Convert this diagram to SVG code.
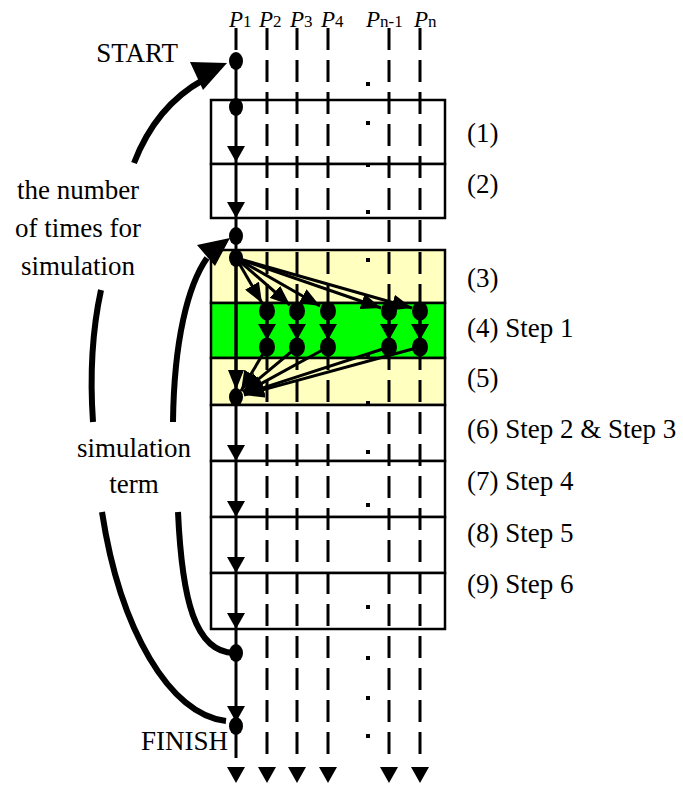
<svg xmlns="http://www.w3.org/2000/svg" xmlns:xlink="http://www.w3.org/1999/xlink" width="683" height="785" viewBox="0 0 683 785">
<style>
.lbl{font-size:27px}
.pl{font-size:23px;font-style:italic}
.ps{font-size:17px;font-style:normal}
.dash{stroke:#000;stroke-width:3;stroke-dasharray:22 10;fill:none}
.box{stroke:#000;stroke-width:2.5}
.ln{stroke:#000;stroke-width:3;fill:none}
.fan{stroke:#000;stroke-width:3;fill:none;marker-end:url(#ah)}
.crv{stroke:#000;stroke-width:6;fill:none}
.dot{fill:#000}
</style>
<defs>
<marker id="ah" viewBox="0 0 20 16" refX="20" refY="8" markerWidth="20" markerHeight="16" markerUnits="userSpaceOnUse" orient="auto"><path d="M0,0 L20,8 L0,16 z"/></marker>
<path id="dn" d="M-9,-16 L9,-16 L0,0 z"/>
<path id="dnb" d="M-9,0 L9,0 L0,16 z"/>
<ellipse id="d" cx="0" cy="0" rx="7" ry="9"/>
<ellipse id="d2" cx="0" cy="0" rx="8" ry="9.5"/>
<rect id="sq" x="-2" y="-2" width="4" height="4"/>
</defs>

<g id="boxes">
<g id="box1"><rect class="box" x="211" y="100" width="234" height="64" fill="#fff"/></g>
<g id="box2"><rect class="box" x="211" y="164" width="234" height="54" fill="#fff"/></g>
<g id="box3"><rect class="box" x="211" y="250" width="234" height="53" fill="#FFFFC0"/></g>
<g id="box4"><rect class="box" x="211" y="303" width="234" height="55" fill="#00FF00"/></g>
<g id="box5"><rect class="box" x="211" y="358" width="234" height="47" fill="#FFFFC0"/></g>
<g id="box6"><rect class="box" x="211" y="405" width="234" height="56" fill="#fff"/></g>
<g id="box7"><rect class="box" x="211" y="461" width="234" height="56" fill="#fff"/></g>
<g id="box8"><rect class="box" x="211" y="517" width="234" height="56" fill="#fff"/></g>
<g id="box9"><rect class="box" x="211" y="573" width="234" height="56" fill="#fff"/></g>
</g>

<g id="columns">
<line class="dash" x1="236" y1="28" x2="236" y2="58"/>
<line class="dash" x1="267" y1="28" x2="267" y2="757"/>
<line class="dash" x1="297" y1="28" x2="297" y2="757"/>
<line class="dash" x1="328" y1="28" x2="328" y2="757"/>
<line class="dash" x1="389" y1="28" x2="389" y2="757"/>
<line class="dash" x1="420" y1="28" x2="420" y2="757"/>
<g class="dot">
<use xlink:href="#dnb" x="236" y="767"/>
<use xlink:href="#dnb" x="267" y="767"/>
<use xlink:href="#dnb" x="297" y="767"/>
<use xlink:href="#dnb" x="328" y="767"/>
<use xlink:href="#dnb" x="389" y="767"/>
<use xlink:href="#dnb" x="420" y="767"/>
</g>
</g>

<g id="ellipsis" class="dot">
<use xlink:href="#sq" x="368" y="84"/>
<use xlink:href="#sq" x="368" y="123"/>
<use xlink:href="#sq" x="368" y="165"/>
<use xlink:href="#sq" x="368" y="212"/>
<use xlink:href="#sq" x="368" y="260"/>
<use xlink:href="#sq" x="368" y="355"/>
<use xlink:href="#sq" x="368" y="403"/>
<use xlink:href="#sq" x="368" y="452"/>
<use xlink:href="#sq" x="368" y="505"/>
<use xlink:href="#sq" x="368" y="607"/>
<use xlink:href="#sq" x="368" y="658"/>
<use xlink:href="#sq" x="368" y="698"/>
<use xlink:href="#sq" x="368" y="736"/>
</g>

<g id="connectors">
<line class="ln" x1="236" y1="61" x2="236" y2="758"/>
<g class="dot">
<use xlink:href="#dn" x="236" y="162"/>
<use xlink:href="#dn" x="236" y="218"/>
<use xlink:href="#dn" x="236" y="461"/>
<use xlink:href="#dn" x="236" y="517"/>
<use xlink:href="#dn" x="236" y="573"/>
<use xlink:href="#dn" x="236" y="629"/>
<use xlink:href="#dn" x="236" y="722"/>
</g>
<line class="fan" x1="236" y1="258" x2="262" y2="303"/>
<line class="fan" x1="236" y1="258" x2="290" y2="305"/>
<line class="fan" x1="236" y1="258" x2="320" y2="306"/>
<line class="fan" x1="236" y1="258" x2="381" y2="308"/>
<line class="fan" x1="236" y1="258" x2="412" y2="308"/>
<g class="dot">
<use xlink:href="#dn" x="267" y="340"/>
<use xlink:href="#dn" x="297" y="340"/>
<use xlink:href="#dn" x="328" y="340"/>
<use xlink:href="#dn" x="389" y="340"/>
<use xlink:href="#dn" x="420" y="340"/>
</g>
<line class="ln" x1="267" y1="311" x2="267" y2="347"/>
<line class="ln" x1="297" y1="311" x2="297" y2="347"/>
<line class="ln" x1="328" y1="311" x2="328" y2="347"/>
<line class="ln" x1="389" y1="311" x2="389" y2="347"/>
<line class="ln" x1="420" y1="311" x2="420" y2="347"/>
<line class="fan" x1="267" y1="347" x2="241" y2="391"/>
<line class="fan" x1="297" y1="347" x2="243" y2="392"/>
<line class="fan" x1="328" y1="347" x2="244" y2="393"/>
<line class="fan" x1="389" y1="347" x2="244" y2="394"/>
<line class="fan" x1="420" y1="347" x2="244" y2="395"/>
<line class="fan" x1="236" y1="258" x2="236" y2="390"/>
<path class="crv" d="M134,163 Q156,106 203,80"/>
<polygon points="190,62 227,63 203,90"/>
<path class="crv" d="M101,290 Q88,350 93,422"/>
<path class="crv" d="M102,512 C120,630 170,715 226,721"/>
<path class="crv" d="M173,422 C174,340 188,285 207,258"/>
<polygon points="197,245 230,238 215,266"/>
<path class="crv" d="M178,512 C182,600 195,652 234,653"/>
</g>

<g id="nodes" class="dot">
<g id="start-dot"><use xlink:href="#d" x="236" y="61"/></g>
<g id="dot1"><use xlink:href="#d" x="236" y="107"/></g>
<g id="dot-loop"><use xlink:href="#d" x="236" y="236"/></g>
<g id="dot3"><use xlink:href="#d" x="236" y="258"/></g>
<g id="dots-step1a">
<use xlink:href="#d2" x="267" y="311"/><use xlink:href="#d2" x="297" y="311"/><use xlink:href="#d2" x="328" y="311"/><use xlink:href="#d2" x="389" y="311"/><use xlink:href="#d2" x="420" y="311"/>
</g>
<g id="dots-step1b">
<use xlink:href="#d2" x="267" y="347"/><use xlink:href="#d2" x="297" y="347"/><use xlink:href="#d2" x="328" y="347"/><use xlink:href="#d2" x="389" y="347"/><use xlink:href="#d2" x="420" y="347"/>
</g>
<g id="dot5"><use xlink:href="#d" x="236" y="397"/></g>
<g id="dot-term"><use xlink:href="#d" x="236" y="653"/></g>
<g id="finish-dot"><use xlink:href="#d" x="236" y="726"/></g>
</g>

<g id="labels" font-family="Liberation Serif, DejaVu Serif, serif" fill="#000">
<text class="pl" font-family="Liberation Serif, DejaVu Serif, serif" x="229" y="27">P<tspan class="ps">1</tspan></text>
<text class="pl" font-family="Liberation Serif, DejaVu Serif, serif" x="259" y="27">P<tspan class="ps">2</tspan></text>
<text class="pl" font-family="Liberation Serif, DejaVu Serif, serif" x="290" y="27">P<tspan class="ps">3</tspan></text>
<text class="pl" font-family="Liberation Serif, DejaVu Serif, serif" x="321" y="27">P<tspan class="ps">4</tspan></text>
<text class="pl" font-family="Liberation Serif, DejaVu Serif, serif" x="366" y="27">P<tspan class="ps" font-style="italic">n</tspan><tspan class="ps">-1</tspan></text>
<text class="pl" font-family="Liberation Serif, DejaVu Serif, serif" x="414" y="27">P<tspan class="ps" font-style="italic">n</tspan></text>
<text class="lbl" font-family="Liberation Serif, DejaVu Serif, serif" x="178" y="62" text-anchor="end">START</text>
<text class="lbl" font-family="Liberation Serif, DejaVu Serif, serif" x="228" y="750" text-anchor="end">FINISH</text>
<text class="lbl" font-family="Liberation Serif, DejaVu Serif, serif" x="78" y="199" text-anchor="middle">the number</text>
<text class="lbl" font-family="Liberation Serif, DejaVu Serif, serif" x="78" y="237" text-anchor="middle">of times for</text>
<text class="lbl" font-family="Liberation Serif, DejaVu Serif, serif" x="78" y="275" text-anchor="middle">simulation</text>
<text class="lbl" font-family="Liberation Serif, DejaVu Serif, serif" x="134" y="457" text-anchor="middle">simulation</text>
<text class="lbl" font-family="Liberation Serif, DejaVu Serif, serif" x="134" y="493" text-anchor="middle">term</text>
<text class="lbl" font-family="Liberation Serif, DejaVu Serif, serif" x="467" y="142">(1)</text>
<text class="lbl" font-family="Liberation Serif, DejaVu Serif, serif" x="467" y="193">(2)</text>
<text class="lbl" font-family="Liberation Serif, DejaVu Serif, serif" x="467" y="287">(3)</text>
<text class="lbl" font-family="Liberation Serif, DejaVu Serif, serif" x="467" y="337">(4) Step 1</text>
<text class="lbl" font-family="Liberation Serif, DejaVu Serif, serif" x="467" y="387">(5)</text>
<text class="lbl" font-family="Liberation Serif, DejaVu Serif, serif" x="467" y="438">(6) Step 2 &amp; Step 3</text>
<text class="lbl" font-family="Liberation Serif, DejaVu Serif, serif" x="467" y="490">(7) Step 4</text>
<text class="lbl" font-family="Liberation Serif, DejaVu Serif, serif" x="467" y="542">(8) Step 5</text>
<text class="lbl" font-family="Liberation Serif, DejaVu Serif, serif" x="467" y="593">(9) Step 6</text>
</g>
</svg>
